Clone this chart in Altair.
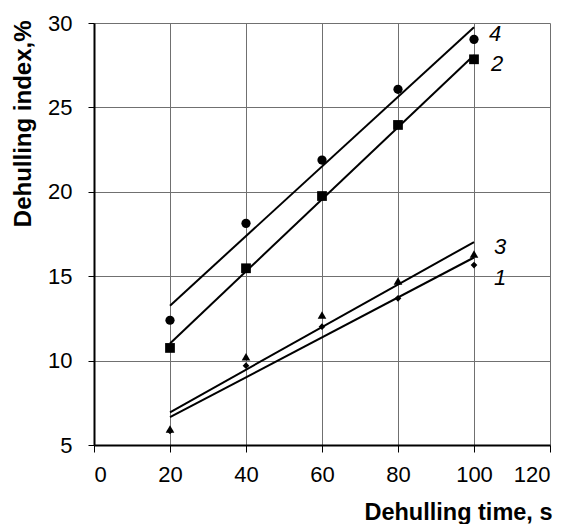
import altair as alt
import pandas as pd

times = [20, 40, 60, 80, 100]
s1 = [5.83, 9.70, 12.01, 13.69, 15.66]   # diamonds
s2 = [10.75, 15.47, 19.75, 23.96, 27.85]  # squares
s3 = [5.95, 10.23, 12.70, 14.72, 16.31]   # triangles
s4 = [12.39, 18.13, 21.88, 26.07, 29.03]  # circles

series = {"1": s1, "2": s2, "3": s3, "4": s4}
shapes = {"1": ("diamond", 45), "2": ("square", 95), "3": ("triangle-up", 75), "4": ("circle", 85)}
label_offsets = {"4": (21, -5), "2": (23, 5), "3": (26, -7), "1": (26, 13)}

rows = []
for k, vals in series.items():
    for t, v in zip(times, vals):
        rows.append({"series": k, "t": t, "v": v})
df = pd.DataFrame(rows)

FONT = "Liberation Sans"

xscale = alt.Scale(domain=[0, 120], nice=False)
yscale = alt.Scale(domain=[5, 30], nice=False, zero=False)

xaxis = alt.Axis(values=[0, 20, 40, 60, 80, 100, 120], title="Dehulling time, s",
                 titleFont=FONT, titleFontSize=23.5, titleFontWeight="bold",
                 titleAlign="right", titleAnchor="end", titleX=458, titleY=74,
                 titleBaseline="alphabetic",
                 labelFont=FONT, labelFontSize=22, labelPadding=12, tickSize=7,
                 domainColor="black", domainWidth=2, tickColor="black",
                 gridColor="#707070", gridWidth=1, labelColor="black", titleColor="black")
yaxis = alt.Axis(values=[5, 10, 15, 20, 25, 30], title="Dehulling index,%",
                 titleFont=FONT, titleFontSize=24, titleFontWeight="bold",
                 titleAngle=-90, titleAlign="right", titleX=-64, titleY=-3,
                 titleBaseline="alphabetic",
                 labelFont=FONT, labelFontSize=22, labelPadding=16, tickSize=6,
                 domainColor="black", domainWidth=2, tickColor="black",
                 gridColor="#707070", gridWidth=1, labelColor="black", titleColor="black")

base = alt.Chart(df)

layers = []
layers.append(base.mark_point(opacity=0).encode(
    x=alt.X("t:Q", scale=xscale, axis=xaxis),
    y=alt.Y("v:Q", scale=yscale, axis=yaxis)))

for k in ["1", "2", "3", "4"]:
    sub = base.transform_filter(alt.datum.series == k)
    reg = sub.transform_regression("t", "v", method="linear").mark_line(
        color="black", strokeWidth=2).encode(
        x=alt.X("t:Q", scale=xscale), y=alt.Y("v:Q", scale=yscale))
    shp, sz = shapes[k]
    pts = sub.mark_point(shape=shp, size=sz, filled=True, color="black", opacity=1).encode(
        x=alt.X("t:Q", scale=xscale), y=alt.Y("v:Q", scale=yscale))
    dx, dy = label_offsets[k]
    lab = sub.transform_filter(alt.datum.t == 100).mark_text(
        text=k, font=FONT, fontSize=22, fontStyle="italic", dx=dx, dy=dy,
        color="black", align="center", baseline="middle").encode(
        x=alt.X("t:Q", scale=xscale), y=alt.Y("v:Q", scale=yscale))
    layers += [reg, pts, lab]

chart = alt.layer(*layers).properties(
    width=456, height=422,
    autosize=alt.AutoSizeParams(type="none"),
    padding={"left": 86, "top": 15, "right": 13, "bottom": 90},
).configure_view(stroke=None).configure_axis(grid=True)

chart.save("out.html", embed_options={"renderer": "svg", "actions": False})
